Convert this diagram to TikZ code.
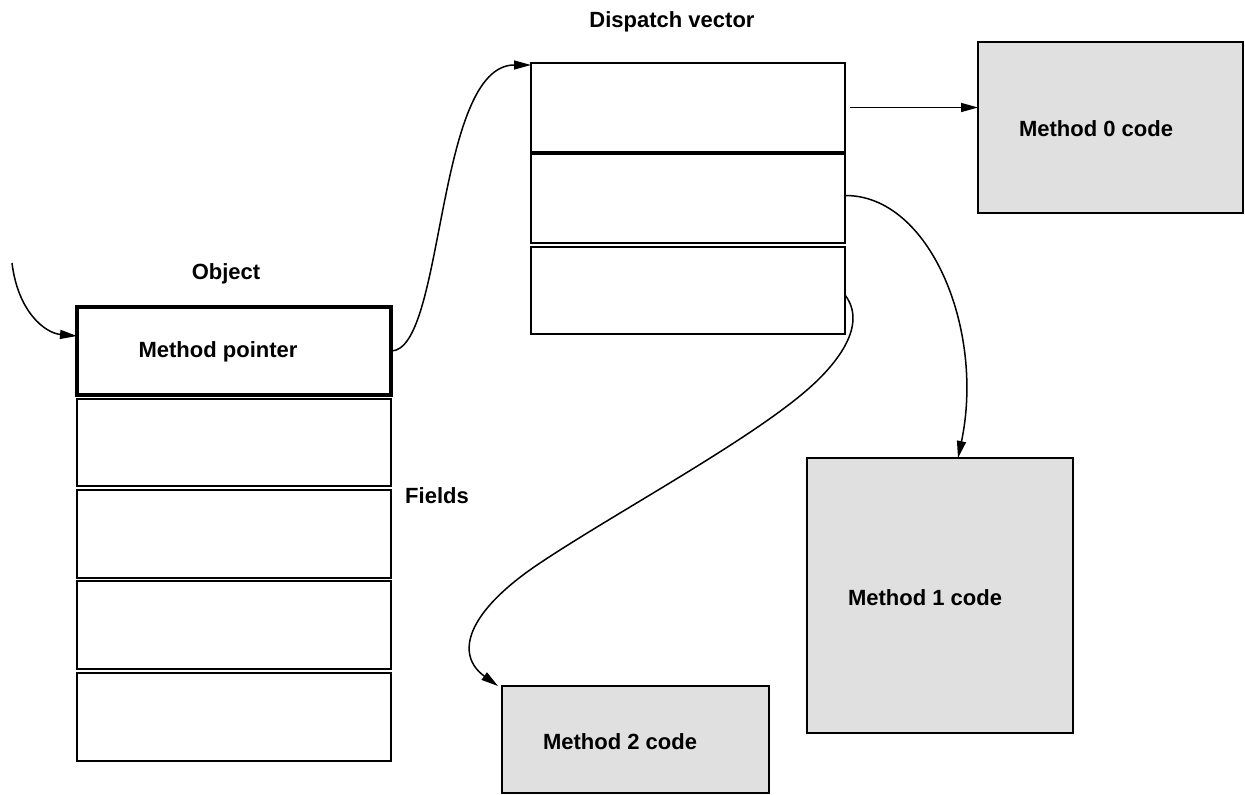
\documentclass[tikz,border=0pt]{standalone}
\usepackage{fontspec}
\setmainfont{Liberation Sans}
\usetikzlibrary{arrows.meta}
\begin{document}
\begin{tikzpicture}[x=1pt,y=-1pt,
  box/.style={draw=black, line width=1.8pt, inner sep=0pt, outer sep=0pt, rectangle},
  thickbox/.style={box, line width=4pt},
  codebox/.style={box, fill=black!12},
  lbl/.style={inner sep=0pt, font=\fontsize{22}{26}\selectfont\bfseries},
  arr/.style={line width=1.5pt, -{Triangle[length=17pt,width=9pt]}}
]
\useasboundingbox (0,0) rectangle (1245,795);
% object
\node[thickbox, minimum width=314pt, minimum height=88pt] (mp) at (234,351) {};
\node[box, minimum width=314pt, minimum height=87pt] (f1) at (234,442.5) {};
\node[box, minimum width=314pt, minimum height=88pt] (f2) at (234,534) {};
\node[box, minimum width=314pt, minimum height=88pt] (f3) at (234,625) {};
\node[box, minimum width=314pt, minimum height=88pt] (f4) at (234,717) {};
% dispatch vector
\node[box, minimum width=314pt, minimum height=89pt] (d0) at (688,107.5) {};
\node[box, minimum width=314pt, minimum height=89pt] (d1) at (688,198.5) {};
\node[box, minimum width=314pt, minimum height=87pt] (d2) at (688,290.5) {};
% code boxes
\node[codebox, minimum width=265pt, minimum height=171pt] (m0) at (1110.5,127.5) {};
\node[codebox, minimum width=266pt, minimum height=275pt] (m1) at (940,595.5) {};
\node[codebox, minimum width=267pt, minimum height=107pt] (m2) at (635.5,739.5) {};
% labels
\node[lbl] (lobj) at (226,273.5) {Object};
\node[lbl] (lmp) at (218,352) {Method pointer};
\node[lbl] (ldv) at (672,21.5) {Dispatch vector};
\node[lbl] (lm0) at (1096,128.5) {Method 0 code};
\node[lbl] (lm1) at (925,597.5) {Method 1 code};
\node[lbl] (lm2) at (620,741.5) {Method 2 code};
\node[lbl] (lf) at (437,495.5) {Fields};
% connectors
\coordinate (in) at (12,263);
\draw[arr] (in) .. controls (18,312) and (45,333) .. ([yshift=15pt]mp.west);
\draw[arr] (mp.east) .. controls (445,351) and (435,65) .. ([yshift=-2pt]d0.north west);
\draw[arr] ([xshift=5pt]d0.east) -- (m0.west |- d0.east);
\draw[arr] ([yshift=3pt]d1.east) .. controls (930,195) and (985,330) .. ([xshift=18pt]m1.north);
\draw[arr] ([yshift=-4.5pt]d2.east) .. controls (868,325) and (837,364) .. (807,390)
  .. controls (747,442) and (615,513) .. (540,563)
  .. controls (465,613) and (455,655) .. ([xshift=-4pt]m2.north west);
\end{tikzpicture}
\end{document}
